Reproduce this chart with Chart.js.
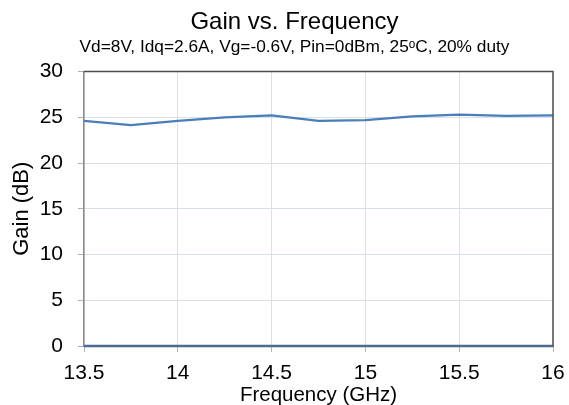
<!DOCTYPE html>
<html>
<head>
<meta charset="utf-8">
<script src="https://cdn.jsdelivr.net/npm/chart.js"></script>
<style>
  html, body { margin: 0; padding: 0; background: #fff; }
  #wrap { width: 569px; height: 405px; }
</style>
</head>
<body>
<div id="wrap"><canvas id="gain-chart"></canvas></div>
<script>
// Data
const freqGHz = [13.5, 13.75, 14, 14.25, 14.5, 14.75, 15, 15.25, 15.5, 15.75, 16];
const gainDb = [24.6, 24.15, 24.6, 25.0, 25.2, 24.6, 24.7, 25.1, 25.3, 25.15, 25.2];
const zeroLine = [0, 0, 0, 0, 0, 0, 0, 0, 0, 0, 0];

const FONT = '"Liberation Sans", Arial, sans-serif';

// Dark frame on the top and right of the plot area
const frame = {
  id: 'frame',
  afterDraw(chart) {
    const a = chart.chartArea, ctx = chart.ctx;
    ctx.save();
    ctx.strokeStyle = '#4d4d4d';
    ctx.lineWidth = 1.5;
    ctx.beginPath();
    ctx.moveTo(a.left, a.top);
    ctx.lineTo(a.right, a.top);
    ctx.lineTo(a.right, a.bottom);
    ctx.stroke();
    ctx.restore();
  }
};

// title + subtitle sit a bit right of the canvas centre in the original
const titleShift = {
  id: 'titleShift',
  afterLayout(chart) {
    chart.boxes.forEach(b => {
      if (b.options && b.options.text && b.position === 'top') {
        b.left += 18;
        b.right += 18;
      }
    });
  }
};

const ctx = document.getElementById('gain-chart').getContext('2d');
new Chart(ctx, {
  type: 'line',
  data: {
    datasets: [
      {
        label: 'Gain',
        data: freqGHz.map((f, i) => ({ x: f, y: gainDb[i] })),
        borderColor: '#4a7ebb',
        borderWidth: 2.2,
        pointRadius: 0,
        tension: 0
      },
      {
        label: 'Zero',
        data: freqGHz.map((f, i) => ({ x: f, y: zeroLine[i] })),
        borderColor: '#4f6a90',
        borderWidth: 2.4,
        pointRadius: 0,
        clip: false
      }
    ]
  },
  options: {
    responsive: true,
    maintainAspectRatio: false,
    animation: false,
    layout: { padding: { top: 0, right: 16, bottom: 0, left: 0 } },
    plugins: {
      legend: { display: false },
      tooltip: { enabled: false },
      title: {
        display: true,
        text: 'Gain vs. Frequency',
        color: '#000',
        font: { family: FONT, size: 24, weight: 'normal' },
        padding: { top: 8, bottom: 0 }
      },
      subtitle: {
        display: true,
        text: 'Vd=8V, Idq=2.6A, Vg=-0.6V, Pin=0dBm, 25\u1D52C, 20% duty',
        color: '#000',
        font: { family: FONT, size: 17.3 },
        padding: { top: 0, bottom: 14 }
      }
    },
    scales: {
      x: {
        type: 'linear',
        min: 13.5,
        max: 16,
        afterFit: s => { s.height = 59; s.paddingRight = 0; s.paddingLeft = 0; },
        ticks: {
          stepSize: 0.5,
          color: '#000',
          font: { family: FONT, size: 21 },
          padding: 9,
          maxRotation: 0,
          callback: v => String(v)
        },
        grid: { color: '#d8e0ea', tickColor: '#b0b8c4', tickLength: 6 },
        border: { color: '#4f6a90' },
        title: {
          display: true,
          text: 'Frequency (GHz)',
          color: '#000',
          font: { family: FONT, size: 20.5, lineHeight: 1 },
          padding: { top: 0, bottom: -1 }
        }
      },
      y: {
        min: 0,
        max: 30,
        afterFit: s => { s.width = 84; },
        ticks: {
          stepSize: 5,
          color: '#000',
          font: { family: FONT, size: 21 },
          padding: 15
        },
        grid: { color: '#d8e0ea', tickColor: '#b0b0b0', tickLength: 6 },
        border: { color: '#8a8a8a', width: 1.5 },
        title: {
          display: true,
          text: 'Gain (dB)',
          color: '#000',
          font: { family: FONT, size: 22 },
          padding: { top: 9, bottom: 0 }
        }
      }
    }
  },
  plugins: [frame, titleShift]
});
</script>
</body>
</html>
